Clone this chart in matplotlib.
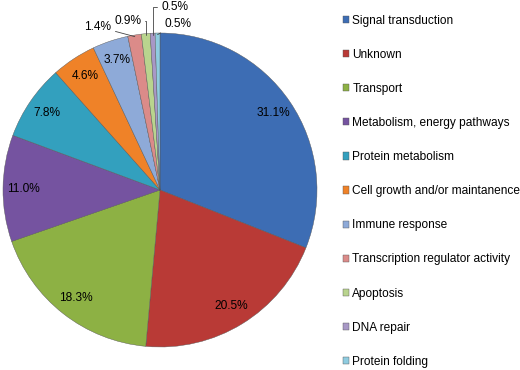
import matplotlib
matplotlib.use("Agg")
import matplotlib.pyplot as plt
import numpy as np

plt.rcParams["font.family"] = ["Liberation Sans", "DejaVu Sans"]

CATEGORIES = [
    "Signal transduction", "Unknown", "Transport", "Metabolism, energy pathways",
    "Protein metabolism", "Cell growth and/or maintanence", "Immune response",
    "Transcription regulator activity", "Apoptosis", "DNA repair", "Protein folding",
]
PERCENTS = [31.1, 20.5, 18.3, 11.0, 7.8, 4.6, 3.7, 1.4, 0.9, 0.5, 0.5]
COLORS = ["#3D6DB4", "#B93A36", "#8DB144", "#7553A0", "#33A0BE", "#EF8228",
          "#8EAAD8", "#DB8B89", "#B9D48E", "#A898C6", "#8FCCE0"]

# outside label placement for the thin slices: (x, y, ha, connection)
OUTSIDE = {
    7: (-0.31, 1.04, "right", "arc3"),
    8: (-0.12, 1.075, "right", "angle,angleA=0,angleB=90,rad=0"),
    9: (0.01, 1.165, "left", "angle,angleA=180,angleB=90,rad=0"),
    10: (0.03, 1.06, "left", "arc3"),
}

fig = plt.figure(figsize=(5.2, 3.7), dpi=100)
ax = fig.add_axes([3 / 520, 1 - 347 / 370, 314 / 520, 314 / 370])

wedges, _ = ax.pie(PERCENTS, colors=COLORS, startangle=90, counterclock=False,
                   wedgeprops=dict(linewidth=0.3, edgecolor="#555555"))
ax.set_xlim(-1, 1)
ax.set_ylim(-1, 1)
ax.set_aspect("equal")

for i, (w, p) in enumerate(zip(wedges, PERCENTS)):
    ang = np.deg2rad((w.theta1 + w.theta2) / 2)
    x, y = np.cos(ang), np.sin(ang)
    txt = f"{p:.1f}%"
    if i in OUTSIDE:
        tx, ty, ha, conn = OUTSIDE[i]
        ax.annotate(txt, xy=(x * 0.99, y * 0.99), xytext=(tx, ty),
                    ha=ha, va="center", fontsize=8.6, annotation_clip=False,
                    arrowprops=dict(arrowstyle="-", color="#444444", lw=0.6,
                                    shrinkA=1, shrinkB=0, connectionstyle=conn))
    else:
        ax.text(x * 0.87, y * 0.87, txt, ha="center", va="center", fontsize=8.6)

fig.legend(wedges, CATEGORIES, loc="upper left", bbox_to_anchor=(338 / 520, 1 - 10 / 370),
           frameon=False, fontsize=8.6, labelspacing=1.85, handlelength=0.55,
           handleheight=0.55, handletextpad=0.25, borderaxespad=0)

fig.savefig("out.png", dpi=100)
